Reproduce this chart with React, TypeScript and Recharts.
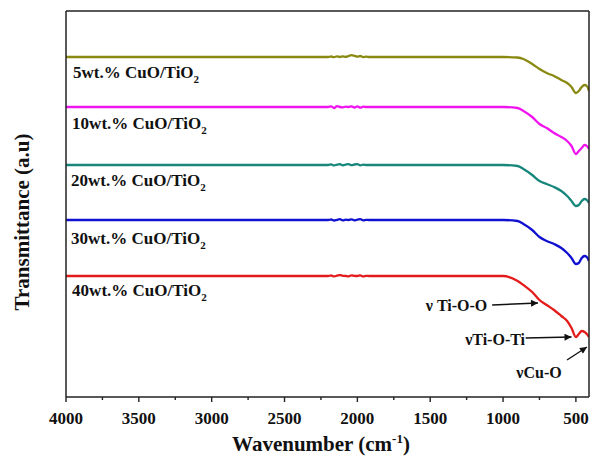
import { LineChart, Line, XAxis, YAxis, ReferenceDot, ReferenceLine } from 'recharts';

// FTIR spectra, wavenumber in cm-1 (x axis runs 4000 -> ~410)
const wavenumbers = [4000, 3500, 3000, 2500, 2200, 2180, 2160, 2140, 2120, 2100, 2080, 2060, 2040, 2020, 2000, 1980, 1960, 1940, 1920, 1500, 1000, 900, 860, 800, 750, 700, 650, 600, 560, 530, 500, 480, 460, 440, 425, 410];

// transmittance, arbitrary units (curves are stacked)
const cu5 = [340, 340, 340, 340, 340, 340.5, 339.8, 340.6, 340, 340.7, 340.2, 341, 341.8, 341.2, 340.4, 341, 339.9, 340.4, 340, 340, 340, 339.5, 338, 333, 328, 324, 321, 317, 314, 310, 304, 306, 310, 312, 311, 306];
const cu10 = [290, 290, 290, 290, 290, 290.6, 289, 290.8, 290, 289.6, 290.4, 290, 290.7, 289.5, 290.6, 289.3, 290.4, 290, 290, 290, 290, 289, 286, 280, 273, 269, 264, 260, 256, 251, 243, 246, 249, 252, 251, 248];
const cu20 = [232, 232, 232, 232, 232, 232.6, 231.6, 232.3, 232.8, 231.7, 232.4, 232.9, 231.8, 232.5, 232.8, 231.7, 232.3, 232, 232, 232, 232, 231, 228, 222, 216, 213, 210, 206, 201, 196, 191, 192, 196, 198, 197, 194];
const cu30 = [177, 177, 177, 177, 177, 177.5, 176.5, 177.2, 177.8, 176.6, 177.3, 177, 177.7, 176.6, 177.4, 177.8, 176.7, 177.2, 177, 177, 177, 176, 173, 167, 160, 156, 153, 149, 144, 139, 133, 134, 139, 141, 140, 136];
const cu40 = [121, 121, 121, 121, 121, 121.5, 120.6, 121.3, 121.9, 121.2, 121, 120.6, 121.7, 121.2, 121, 121.6, 120.6, 121.2, 121, 121, 121, 116, 112, 105, 97, 92, 87, 81, 76, 69, 60, 63, 66, 65, 63, 60];

const seriesKeys = ['cu5', 'cu10', 'cu20', 'cu30', 'cu40'];
const seriesLabels = ['5wt.% CuO/TiO', '10wt.% CuO/TiO', '20wt.% CuO/TiO', '30wt.% CuO/TiO', '40wt.% CuO/TiO'];
const xTicks = [4000, 3750, 3500, 3250, 3000, 2750, 2500, 2250, 2000, 1750, 1500, 1250, 1000, 750, 500];

const colors = ['#8a8a12', '#f014f0', '#17877c', '#1010d0', '#e41b1b'];
const labelPos = [
	{ x: 3952, y: 325 },
	{ x: 3958, y: 274 },
	{ x: 3965, y: 217 },
	{ x: 3965, y: 159 },
	{ x: 3958, y: 107 },
];

const rows = wavenumbers.map((wn, i) => ({
	wn,
	cu5: cu5[i],
	cu10: cu10[i],
	cu20: cu20[i],
	cu30: cu30[i],
	cu40: cu40[i],
}));

const FONT = "'Liberation Serif', 'Times New Roman', serif";
const AXIS = '#222';
const txt = { fontFamily: FONT, fontWeight: 'bold' as const };

const WaveTick = (props: any) => {
	const { x, y, payload } = props;
	const major = payload.value % 500 === 0;
	return (
		<g>
			<line x1={x} x2={x} y1={y} y2={y + (major ? 5 : 3)} stroke={AXIS} strokeWidth={1.4} />
			{major && (
				<text x={x} y={y + 27} textAnchor='middle' style={{ ...txt, fontSize: 17 }} fill='#111'>
					{payload.value}
				</text>
			)}
		</g>
	);
};

// labels are drawn as the dot's shape, so they sit on data coordinates
const seriesLabel = (text: string) => (p: any) => (
	<text x={p.cx} y={p.cy + 6} style={{ ...txt, fontSize: 17 }} fill='#111'>
		{text}
		<tspan dy={5} fontSize={11}>2</tspan>
	</text>
);

const noteLabel = (text: string, anchor: string) => (p: any) => (
	<text x={p.cx} y={p.cy + 5} textAnchor={anchor} style={{ ...txt, fontSize: 16 }} fill='#111'>
		{text}
	</text>
);

const xTitle = (props: any) => {
	const { viewBox } = props;
	return (
		<text x={viewBox.x + 255} y={viewBox.y + 54} textAnchor='middle' style={{ ...txt, fontSize: 21 }} fill='#111'>
			Wavenumber (cm
			<tspan dy={-8} fontSize={13}>-1</tspan>
			<tspan dy={8}>)</tspan>
		</text>
	);
};

const yTitle = (props: any) => {
	const { viewBox } = props;
	const cx = viewBox.x - 43;
	const cy = viewBox.y + 211;
	return (
		<text x={cx} y={cy} transform={`rotate(-90 ${cx} ${cy})`} textAnchor='middle' dominantBaseline='central' style={{ ...txt, fontSize: 21 }} fill='#111'>
			Transmittance (a.u)
		</text>
	);
};

const App = () => {
	return (
		<div style={{ position: 'absolute', left: 0, top: 0, background: '#fff' }}>
			<LineChart width={590} height={457} data={rows} margin={{ top: 10, right: 0, bottom: 0, left: 65 }}>
				<defs>
					<marker id='arrowHead' viewBox='0 0 10 10' refX='10' refY='5' markerWidth='10' markerHeight='7' markerUnits='userSpaceOnUse' orient='auto'>
						<path d='M0,0 L10,5 L0,10 z' fill='#111' />
					</marker>
				</defs>
				<XAxis
					dataKey='wn'
					type='number'
					domain={[410, 4000]}
					reversed
					allowDataOverflow
					ticks={xTicks}
					interval={0}
					tick={<WaveTick />}
					tickLine={false}
					tickSize={0}
					tickMargin={0}
					height={60}
					axisLine={{ stroke: AXIS, strokeWidth: 1.5 }}
					label={{ content: xTitle }}
				/>
				<XAxis
					xAxisId='top'
					orientation='top'
					dataKey='wn'
					type='number'
					domain={[410, 4000]}
					reversed
					height={1}
					tick={false}
					tickLine={false}
					axisLine={{ stroke: AXIS, strokeWidth: 1.5 }}
				/>
				<YAxis
					type='number'
					domain={[0, 386]}
					width={1}
					tick={false}
					tickLine={false}
					axisLine={{ stroke: AXIS, strokeWidth: 1.5 }}
					label={{ content: yTitle }}
				/>
				<YAxis
					yAxisId='right'
					orientation='right'
					type='number'
					domain={[0, 386]}
					width={1}
					tick={false}
					tickLine={false}
					axisLine={{ stroke: AXIS, strokeWidth: 1.5 }}
				/>
				{seriesKeys.map((key, i) => (
					<Line
						key={key}
						dataKey={key}
						type='monotone'
						stroke={colors[i]}
						strokeWidth={2.3}
						dot={false}
						isAnimationActive={false}
					/>
				))}
				{seriesLabels.map((text, i) => (
					<ReferenceDot
						key={text}
						x={labelPos[i].x}
						y={labelPos[i].y}
						r={1}
						shape={seriesLabel(text)}
					/>
				))}

				{/* band assignments */}
				<ReferenceLine
					segment={[{ x: 1075, y: 92 }, { x: 760, y: 94 }]}
					stroke='#111'
					strokeWidth={1.4}
					markerEnd='url(#arrowHead)'
				/>
				<ReferenceLine
					segment={[{ x: 845, y: 59 }, { x: 530, y: 60 }]}
					stroke='#111'
					strokeWidth={1.4}
					markerEnd='url(#arrowHead)'
				/>
				<ReferenceLine
					segment={[{ x: 561, y: 37 }, { x: 424, y: 50 }]}
					stroke='#111'
					strokeWidth={1.4}
					markerEnd='url(#arrowHead)'
				/>
				<ReferenceDot x={1108} y={91} r={1} shape={noteLabel('ν Ti-O-O', 'end')} />
				<ReferenceDot x={849} y={57} r={1} shape={noteLabel('νTi-O-Ti', 'end')} />
				<ReferenceDot x={753} y={24} r={1} shape={noteLabel('νCu-O', 'middle')} />
			</LineChart>
		</div>
	);
};

export default App;
